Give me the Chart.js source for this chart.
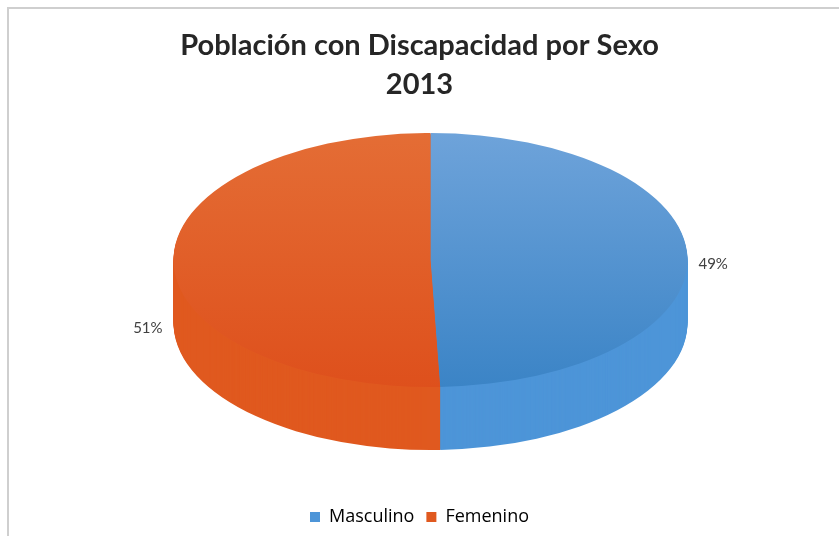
<!DOCTYPE html>
<html>
<head>
<meta charset="utf-8">
<script src="https://cdn.jsdelivr.net/npm/chart.js@4.4.1/dist/chart.umd.min.js"></script>
<style>
  html, body { margin: 0; padding: 0; background: #fff; }
  #wrap { width: 839px; height: 536px; }
</style>
</head>
<body>
<div id="wrap"><canvas id="pastel"></canvas></div>
<script>
// datos
var categorias = ['Masculino', 'Femenino'];
var porcentajes = [49.4, 50.6];
var titulo = ['Población con Discapacidad por Sexo', '2013'];

// colores (cara superior arriba/abajo, lado)
var colorArriba = ['#6ea3da', '#e46d35'];
var colorAbajo = ['#3b84c6', '#de501c'];
var colorLado = ['#4d95d8', '#e0591f'];

// pastel 3D: elipse, grosor y centro de la cara superior
var pie3d = { rx: 257, ry: 127, depth: 63, dx: 11, cy: 260 };

function transformar(chart, arc, d) {
    var R = arc.outerRadius;
    var sx = pie3d.rx / R, sy = pie3d.ry / R;
    var tx = chart.width / 2 + pie3d.dx;
    var ty = pie3d.cy;
    chart.ctx.setTransform(sx, 0, 0, sy, tx - arc.x * sx, ty - arc.y * sy + d);
}

var marco = {
    id: 'marco',
    beforeDraw: function (chart) {
        var ctx = chart.ctx;
        ctx.save();
        ctx.strokeStyle = '#cfcfcf';
        ctx.lineWidth = 2;
        ctx.strokeRect(8, 8, chart.width + 20, chart.height + 20);
        ctx.restore();
    }
};

var tresD = {
    id: 'tresD',
    beforeDatasetsDraw: function (chart) {
        var ctx = chart.ctx;
        var arcs = chart.getDatasetMeta(0).data;
        ctx.save();
        for (var d = pie3d.depth; d >= 1; d--) {
            arcs.forEach(function (arc, i) {
                transformar(chart, arc, d);
                var tmp = Object.create(arc);
                tmp.options = Object.assign({}, arc.options, { backgroundColor: colorLado[i], borderWidth: 0 });
                tmp.draw(ctx);
            });
        }
        transformar(chart, arcs[0], 0);
    },
    afterDatasetsDraw: function (chart) {
        var ctx = chart.ctx;
        ctx.restore();
        var arcs = chart.getDatasetMeta(0).data;
        var cx = chart.width / 2 + pie3d.dx;
        var cy = pie3d.cy;
        ctx.save();
        ctx.font = '15px Lato';
        ctx.fillStyle = '#404040';
        ctx.textBaseline = 'middle';
        arcs.forEach(function (arc, i) {
            var mid = (arc.startAngle + arc.endAngle) / 2;
            var c = Math.cos(mid), s = Math.sin(mid);
            var x = cx + c * (pie3d.rx + 11);
            var y = cy + s * pie3d.ry + 7;
            if (c < 0) y += pie3d.depth - 4;
            ctx.textAlign = c < 0 ? 'right' : 'left';
            ctx.fillText(Math.round(porcentajes[i]) + '%', x, y);
        });
        ctx.restore();
    }
};

var ctx = document.getElementById('pastel').getContext('2d');
new Chart(ctx, {
    type: 'pie',
    data: {
        labels: categorias,
        datasets: [{
            data: porcentajes,
            clip: false,
            borderWidth: 0,
            backgroundColor: function (c) {
                var ch = c.chart;
                if (!ch.chartArea) return colorLado[c.dataIndex];
                var ca = ch.chartArea;
                var mid = (ca.top + ca.bottom) / 2;
                var R = Math.min(ca.right - ca.left, ca.bottom - ca.top) / 2;
                var g = ch.ctx.createLinearGradient(0, mid - R, 0, mid + R);
                g.addColorStop(0, colorArriba[c.dataIndex]);
                g.addColorStop(1, colorAbajo[c.dataIndex]);
                return g;
            }
        }]
    },
    options: {
        responsive: true,
        maintainAspectRatio: false,
        animation: false,
        layout: { padding: { top: 10, bottom: 0, left: 0, right: 0 } },
        plugins: {
            title: {
                display: true,
                text: titulo,
                color: '#262626',
                font: { family: 'Lato', size: 29, weight: 'bold', lineHeight: 1.345 },
                padding: { top: 16, bottom: 20 }
            },
            legend: {
                position: 'bottom',
                labels: {
                    color: '#262626',
                    font: { family: 'Open Sans', size: 18 },
                    boxWidth: 10,
                    boxHeight: 10,
                    padding: 12,
                    generateLabels: function (chart) {
                        return categorias.map(function (t, i) {
                            return { text: t, fillStyle: colorLado[i], strokeStyle: colorLado[i], lineWidth: 0, index: i };
                        });
                    }
                }
            },
            tooltip: { enabled: false }
        }
    },
    plugins: [marco, tresD]
});
</script>
</body>
</html>
